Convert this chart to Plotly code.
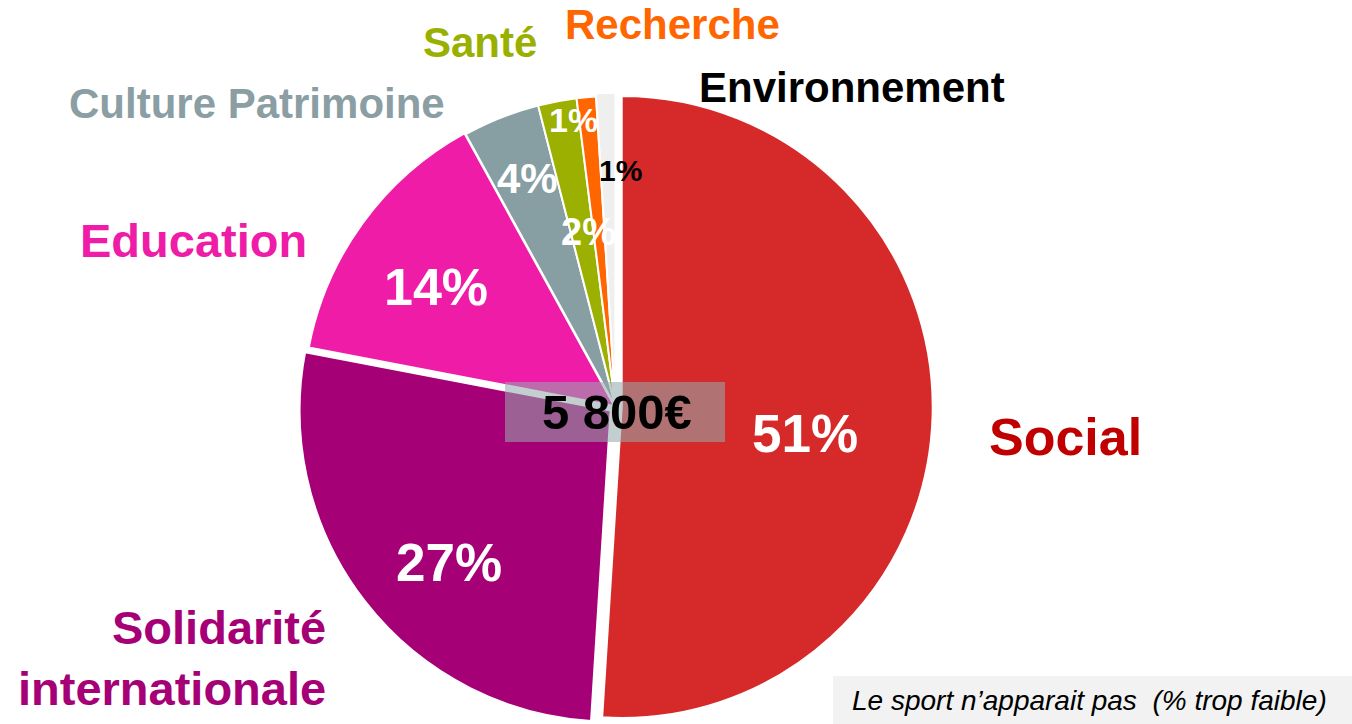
import plotly.graph_objects as go

# ---- data ----
categories = ["Social", "Solidarité internationale", "Education", "Culture Patrimoine",
              "Santé", "Recherche", "Environnement"]
values = [51, 27, 14, 4, 2, 1, 1]
slice_colors = ["#d62a2a", "#a50076", "#ee1ca7", "#879ea2", "#9bb000", "#ff6600", "#efefef"]
label_colors = ["#c00000", "#a50076", "#ee1ca7", "#8a9ea3", "#99b000", "#ff6600", "#000000"]
pct_colors = ["white", "white", "white", "white", "white", "white", "black"]
pulls = [0.02, 0.02, 0.005, 0, 0, 0, 0.01]
total_label = "5 800€"
note_text = "Le sport n’apparait pas  (% trop faible)"

W, H = 1352, 724
FONT = "Liberation Sans, Arial, sans-serif"

# pie geometry (pixels)
cx, r = 615.5, 311
maxpull = max(pulls)
half = r * (1 + maxpull)
dom_x = [(cx - half) / W, (cx + half) / W]
dom_y = [0, 2 * half / H]

fig = go.Figure(go.Pie(
    labels=categories,
    values=values,
    sort=False,
    direction="clockwise",
    rotation=0,
    marker=dict(colors=slice_colors, line=dict(color="white", width=2)),
    pull=pulls,
    textinfo="none",
    hoverinfo="label+percent",
    showlegend=False,
    domain=dict(x=dom_x, y=dom_y),
))

def px(x):
    return x / W

def py(y):
    return 1 - y / H

annotations = []
# category labels (pixel positions of text centres)
cat_pos = [(1065, 437, 52), (None, None, 47), (193, 240, 47), (257, 103, 42),
           (480, 43, 42), (672, 25, 42), (852, 87, 42)]
for i, (x, y, s) in enumerate(cat_pos):
    if x is None:
        continue
    annotations.append(dict(x=px(x), y=py(y), xref="paper", yref="paper",
                            text="<b>%s</b>" % categories[i], showarrow=False,
                            font=dict(family=FONT, size=s, color=label_colors[i]),
                            xanchor="center", yanchor="middle"))
# two-line label Solidarité internationale (right aligned)
sol_words = categories[1].split(" ")
annotations.append(dict(x=px(328), y=py(658), xref="paper", yref="paper",
                        text="<b>%s<br>%s</b>" % (sol_words[0], sol_words[1]), showarrow=False,
                        align="right", xanchor="right", yanchor="middle",
                        font=dict(family=FONT, size=47, color=label_colors[1])))

# percentage labels
pct_pos = [(805, 433, 53), (449, 562, 53), (436, 287, 52), (527, 178, 42),
           (573, 120, 34), (588, 232, 38), (620, 170, 30)]
# the white 1% label sits on top of the Santé slice, the 2% label lower down (as in the source)
pct_text_vals = [values[0], values[1], values[2], values[3], values[5], values[4], values[6]]
for i, (x, y, s) in enumerate(pct_pos):
    annotations.append(dict(x=px(x), y=py(y), xref="paper", yref="paper",
                            text="<b>%d%%</b>" % pct_text_vals[i], showarrow=False,
                            font=dict(family=FONT, size=s, color=pct_colors[i]),
                            xanchor="center", yanchor="middle"))

# centre total
annotations.append(dict(x=px(617), y=py(412), xref="paper", yref="paper",
                        text="<b>%s</b>" % total_label, showarrow=False,
                        font=dict(family=FONT, size=49, color="black"),
                        xanchor="center", yanchor="middle"))
# note
annotations.append(dict(x=px(1089), y=py(700), xref="paper", yref="paper",
                        text="<i>%s</i>" % note_text, showarrow=False,
                        font=dict(family=FONT, size=28, color="black"),
                        xanchor="center", yanchor="middle"))

shapes = [
    dict(type="rect", xref="paper", yref="paper", x0=px(505), x1=px(725), y0=py(442), y1=py(382),
         fillcolor="rgba(150,168,172,0.57)", line=dict(width=0), layer="above"),
    dict(type="rect", xref="paper", yref="paper", x0=px(833), x1=px(1352), y0=py(724), y1=py(676),
         fillcolor="#f1f2f1", line=dict(width=0), layer="below"),
]

fig.update_layout(
    width=W, height=H,
    margin=dict(l=0, r=0, t=0, b=0),
    paper_bgcolor="white",
    plot_bgcolor="white",
    annotations=annotations,
    shapes=shapes,
)

fig.write_html("out.html", config={"displayModeBar": False},
               post_script="document.body.style.margin='0';document.body.style.overflow='hidden';")
